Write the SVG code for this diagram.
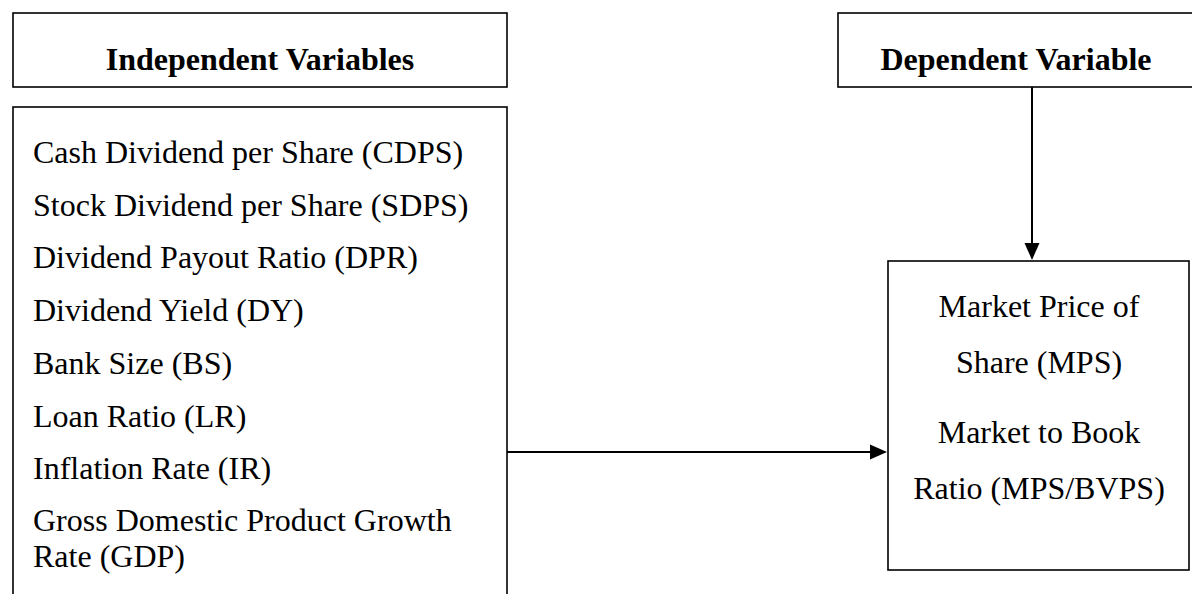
<svg xmlns="http://www.w3.org/2000/svg" width="1192" height="594" viewBox="0 0 1192 594">
  <style>
    .box { fill: #ffffff; stroke: #000000; stroke-width: 1.6; }
    .title { font-family: "Liberation Serif", "Times New Roman", serif; font-weight: bold; font-size: 32px; fill: #000000; }
    .body { font-family: "Liberation Serif", "Times New Roman", serif; font-size: 32px; fill: #000000; }
    .wire { stroke: #000000; stroke-width: 2; fill: none; }
    .head { fill: #000000; }
  </style>
  <rect width="1192" height="594" fill="#ffffff"/>

  <g id="independent-header">
    <rect class="box" x="13" y="13" width="494" height="74"/>
    <text class="title" x="260" y="70" text-anchor="middle">Independent Variables</text>
  </g>

  <g id="dependent-header">
    <rect class="box" x="838" y="13" width="370" height="74"/>
    <text class="title" x="1016" y="70" text-anchor="middle">Dependent Variable</text>
  </g>

  <g id="independent-list">
    <rect class="box" x="13" y="107" width="494" height="500"/>
    <text class="body" x="33" y="163">Cash Dividend per Share (CDPS)</text>
    <text class="body" x="33" y="216">Stock Dividend per Share (SDPS)</text>
    <text class="body" x="33" y="268">Dividend Payout Ratio (DPR)</text>
    <text class="body" x="33" y="321">Dividend Yield (DY)</text>
    <text class="body" x="33" y="374">Bank Size (BS)</text>
    <text class="body" x="33" y="427">Loan Ratio (LR)</text>
    <text class="body" x="33" y="479">Inflation Rate (IR)</text>
    <text class="body" x="33" y="531">Gross Domestic Product Growth</text>
    <text class="body" x="33" y="567">Rate (GDP)</text>
  </g>

  <g id="dependent-list">
    <rect class="box" x="888" y="261" width="301" height="309"/>
    <text class="body" x="1039" y="317" text-anchor="middle">Market Price of</text>
    <text class="body" x="1039" y="373" text-anchor="middle">Share (MPS)</text>
    <text class="body" x="1039" y="443" text-anchor="middle">Market to Book</text>
    <text class="body" x="1039" y="499" text-anchor="middle">Ratio (MPS/BVPS)</text>
  </g>

  <g id="connectors">
    <line class="wire" x1="1032" y1="87" x2="1032" y2="244"/>
    <path class="head" d="M1024.5,243 L1039.5,243 L1032,260 Z"/>
    <line class="wire" x1="507" y1="452" x2="871" y2="452"/>
    <path class="head" d="M870,444.5 L870,459.5 L887,452 Z"/>
  </g>
</svg>
